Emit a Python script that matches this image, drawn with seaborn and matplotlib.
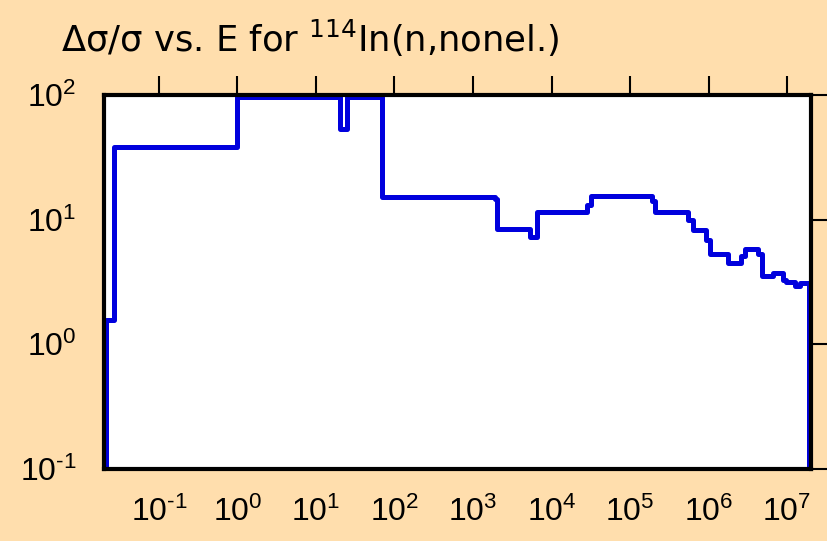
import matplotlib
matplotlib.use("Agg")
import matplotlib.pyplot as plt
from matplotlib.ticker import FixedLocator, FuncFormatter
import seaborn as sns
import pandas as pd
import numpy as np

# Group boundaries (eV) and relative uncertainty (%) for 114In(n,nonel.)
energy_edges = [0.0211, 0.027, 1.0, 20.5, 24.5, 70.0, 1900.0, 2030.0, 5400.0,
                6500.0, 28300.0, 31800.0, 1.90e5, 2.09e5, 5.55e5, 6.31e5,
                9.33e5, 1.03e6, 1.76e6, 2.57e6, 2.92e6, 4.30e6, 4.76e6,
                6.70e6, 8.80e6, 9.70e6, 1.26e7, 1.47e7, 1.92e7]
rel_uncert = [1.57, 38.5, 97.0, 53.6, 97.0, 15.3, 14.6, 8.4, 7.2, 11.5, 13.1,
              15.4, 14.1, 11.6, 10.0, 8.3, 6.9, 5.27, 4.47, 5.13, 5.8, 5.27,
              3.53, 3.72, 3.28, 3.18, 2.94, 3.1]
floor_value = 0.01

x_ticks = [1e-1, 1e0, 1e1, 1e2, 1e3, 1e4, 1e5, 1e6, 1e7]
y_ticks = [1e-1, 1e0, 1e1, 1e2]

# Step outline: rise from the floor, follow the groups, drop back to the floor
xs = [energy_edges[0]] + list(energy_edges) + [energy_edges[-1]]
ys = [floor_value] + list(rel_uncert) + [rel_uncert[-1], floor_value]
df = pd.DataFrame({"E": xs, "unc": ys})

sns.set_theme(style="white")
plt.rcParams["font.family"] = ["Liberation Sans", "DejaVu Sans"]
plt.rcParams["mathtext.fontset"] = "custom"
plt.rcParams["mathtext.rm"] = "Liberation Sans"
plt.rcParams["mathtext.it"] = "Liberation Sans"
plt.rcParams["mathtext.default"] = "regular"


def decade_label(v, pos):
    exp = int(round(np.log10(v)))
    # plain hyphen for negative exponents
    return "$10^{%s}$" % str(exp).replace("-", "\u2010")


bg = "#FFDEAD"
fig = plt.figure(figsize=(8.27, 5.41), dpi=100, facecolor=bg)
ax = fig.add_axes([0.1258, 0.1331, 0.8549, 0.6913])
ax.set_facecolor("white")

sns.lineplot(data=df, x="E", y="unc", sort=False, estimator=None,
             drawstyle="steps-post", color="#0000DD", linewidth=3.6, ax=ax)

ax.set_xscale("log")
ax.set_yscale("log")
ax.set_xlim(0.0200, 2.02e7)
ax.set_ylim(0.1, 100)
ax.xaxis.set_major_locator(FixedLocator(x_ticks))
ax.yaxis.set_major_locator(FixedLocator(y_ticks))
ax.xaxis.set_major_formatter(FuncFormatter(decade_label))
ax.yaxis.set_major_formatter(FuncFormatter(decade_label))
ax.minorticks_off()
ax.set_xlabel("")
ax.set_ylabel("")

for s in ax.spines.values():
    s.set_linewidth(3.0)
    s.set_color("black")
    s.set_zorder(5)

ax.tick_params(axis="both", which="major", direction="out", length=14,
               width=1.5, color="black", labelsize=23, labelcolor="black",
               top=True, right=True, pad=6)
ax.tick_params(axis="x", labeltop=False)
ax.tick_params(axis="y", labelright=False)

fig.text(0.074, 0.904, "\u0394\u03c3/\u03c3 vs. E for $^{114}$In(n,nonel.)",
         fontsize=25.5, color="black", ha="left", va="baseline",
         family=["DejaVu Sans"])

fig.savefig("out.png", dpi=100, facecolor=bg)
